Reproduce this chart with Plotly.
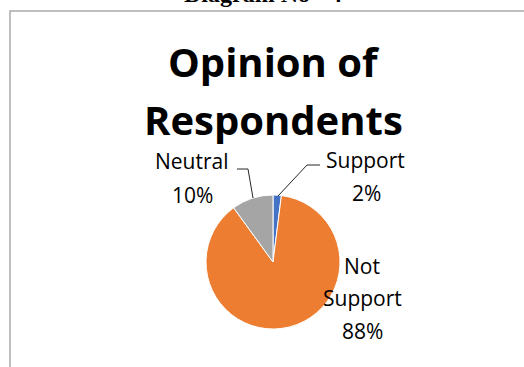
import plotly.graph_objects as go

W, H = 524, 367

categories = ["Support", "Not Support", "Neutral"]
values = [2, 88, 10]
colors = ["#4472C4", "#ED7D31", "#A5A5A5"]
title_lines = ["Opinion of", "Respondents"]
header_text = "Diagram No - 4"

def px(x, y):
    return x / W, 1 - y / H

fig = go.Figure()
x0, y1 = px(206, 195)
x1, y0 = px(340, 329)
fig.add_trace(go.Pie(
    labels=categories, values=values, sort=False, direction="clockwise", rotation=0,
    marker=dict(colors=colors, line=dict(color="white", width=1)),
    textinfo="none", hoverinfo="skip", showlegend=False,
    domain=dict(x=[x0, x1], y=[y0, y1]),
))

annotations = []
def ann(text, x, y, size, bold=False, family="Open Sans", color="black"):
    ax, ay = px(x, y)
    t = f"<b>{text}</b>" if bold else text
    annotations.append(dict(text=t, x=ax, y=ay, xref="paper", yref="paper",
                            xanchor="center", yanchor="middle", showarrow=False,
                            font=dict(family=family, size=size, color=color)))

ann(header_text, 263, -6, 24, bold=True, family="Liberation Serif")
ann(title_lines[0], 273.5, 61.5, 40, bold=True)
ann(title_lines[1], 273.5, 119.5, 40, bold=True)

pct = {c: f"{v}%" for c, v in zip(categories, values)}
# Neutral label
ann(categories[2], 192, 161, 21)
ann(pct["Neutral"], 192, 195, 21)
# Support label
ann(categories[0], 365, 160, 21)
ann(pct["Support"], 366, 193, 21)
# Not Support label
ann("Not", 362, 266, 21)
ann("Support", 362, 298, 21)
ann(pct["Not Support"], 362, 331, 21)

shapes = []
def line(pts, color="#262626", width=1):
    path = "M " + " L ".join(f"{px(a, b)[0]} {px(a, b)[1]}" for a, b in pts)
    shapes.append(dict(type="path", path=path, xref="paper", yref="paper",
                       line=dict(color=color, width=width)))

line([(237, 169), (248, 169), (253, 198)])
line([(278, 196), (307, 165), (320, 165)])

bx0, by0 = px(10, 11)
bx1, by1 = px(540, 390)
shapes.append(dict(type="rect", xref="paper", yref="paper", x0=bx0, y0=by1, x1=bx1, y1=by0,
                   line=dict(color="#ABABAB", width=1.5)))

fig.update_layout(
    width=W, height=H, margin=dict(l=0, r=0, t=0, b=0),
    paper_bgcolor="white", plot_bgcolor="white",
    annotations=annotations, shapes=shapes,
)
fig.write_html("out.html")
